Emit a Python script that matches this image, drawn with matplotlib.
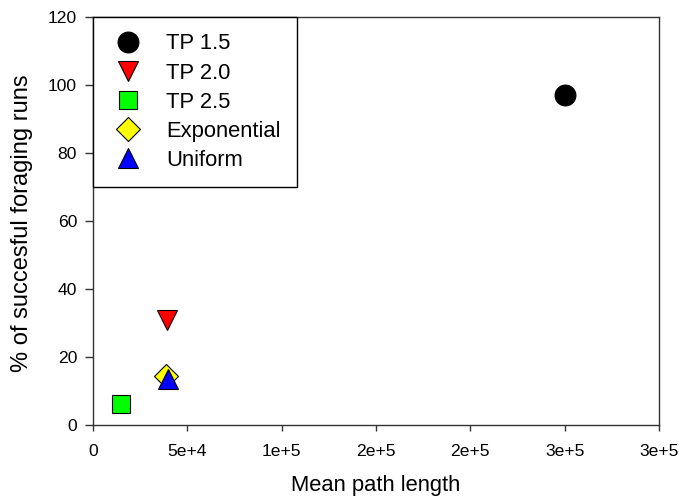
import matplotlib
matplotlib.use("Agg")
import matplotlib.pyplot as plt

plt.rcParams['font.family'] = ['Liberation Sans', 'DejaVu Sans']

# Data
series = ["TP 1.5", "TP 2.0", "TP 2.5", "Exponential", "Uniform"]
mean_path_length = [250000, 39000, 14600, 38700, 39900]
success_pct = [97.2, 30.8, 6.2, 14.4, 13.6]
markers = ["o", "v", "s", "D", "^"]
colors = ["#000000", "#FF0000", "#00FF00", "#FFFF00", "#0000FF"]
msizes = [15, 14, 12.7, 12.5, 14]

xticks = [0, 50000, 100000, 150000, 200000, 250000, 300000]
xticklabels = ["0", "5e+4", "1e+5", "2e+5", "2e+5", "3e+5", "3e+5"]
yticks = [0, 20, 40, 60, 80, 100, 120]
yticklabels = ["0", "20", "40", "60", "80", "100", "120"]

fig = plt.figure(figsize=(6.79, 5.0), dpi=100)
ax = fig.add_axes([93/679, 1-425/500, (659-93)/679, (425-17)/500])

for name, x, y, m, c, s in zip(series, mean_path_length, success_pct, markers, colors, msizes):
    ax.plot([x], [y], linestyle="none", marker=m, markersize=s, markerfacecolor=c,
            markeredgecolor="black", markeredgewidth=0.8, label=name)

ax.set_xlim(0, 300000)
ax.set_ylim(0, 120)
ax.set_xticks(xticks)
ax.set_xticklabels(xticklabels)
ax.set_yticks(yticks)
ax.set_yticklabels(yticklabels)

for sp in ax.spines.values():
    sp.set_color("#333333")
    sp.set_linewidth(1.0)

ax.tick_params(axis="x", direction="out", length=4.5, width=1.0, color="#333333",
               labelsize=12.6, pad=9.5, top=False)
ax.tick_params(axis="y", direction="out", length=6, width=1.0, color="#333333",
               labelsize=12.6, pad=5.5, right=False)

ax.set_xlabel("Mean path length", fontsize=15.8, labelpad=11)
ax.set_ylabel("% of succesful foraging runs", fontsize=17)
ax.yaxis.set_label_coords(-0.106, 0.495)

leg = ax.legend(loc="upper left", borderaxespad=0, fontsize=15.8, frameon=True,
                fancybox=False, edgecolor="black", framealpha=1, borderpad=0.75,
                labelspacing=0.37, handlelength=1.68, handletextpad=0.89, numpoints=1)
leg.get_frame().set_linewidth(1.0)

fig.savefig("out.png", dpi=100)
